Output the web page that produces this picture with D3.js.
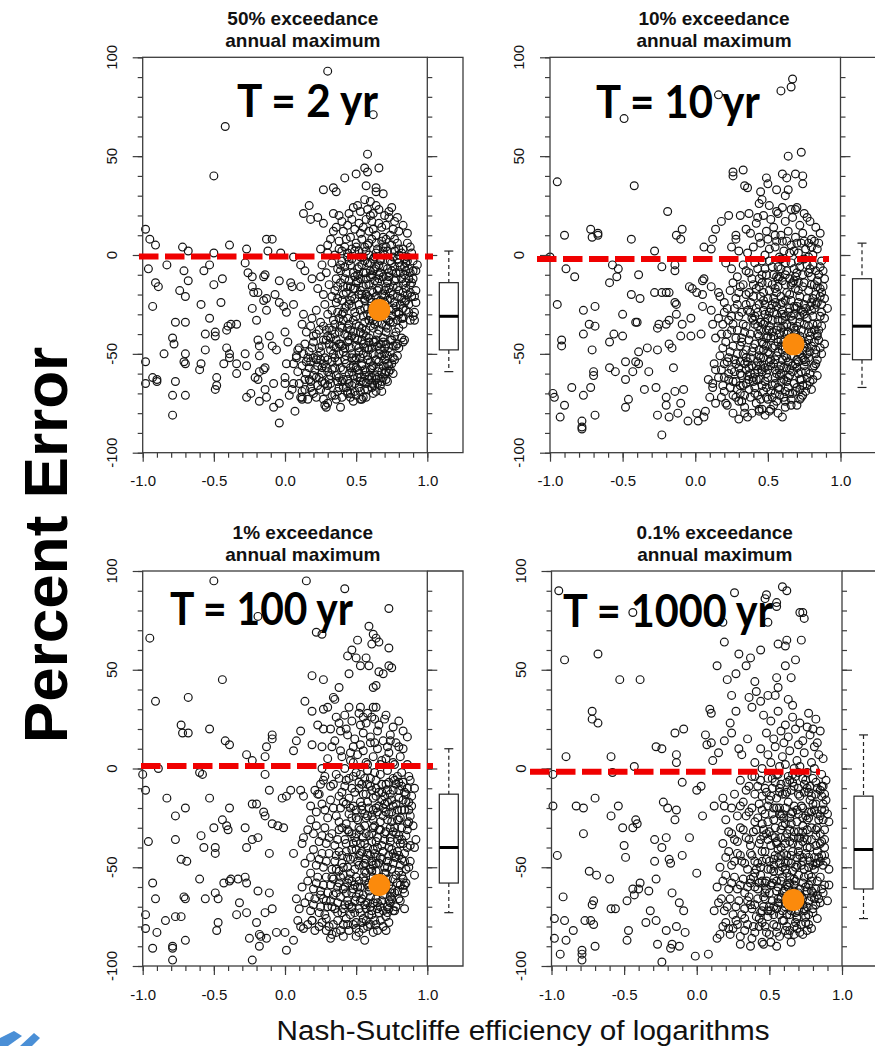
<!DOCTYPE html>
<html><head><meta charset="utf-8">
<script src="https://cdn.jsdelivr.net/npm/d3@7"></script>
<style>html,body{margin:0;padding:0;background:#fff;}svg{display:block;}</style>
</head><body>
<script>
// ---------------- DATA ----------------
const xTickValues = [-1, -0.5, 0, 0.5, 1];
const yTickValues = [-100, -50, 0, 50, 100];
const titleLine1 = ["50% exceedance", "10% exceedance", "1% exceedance", "0.1% exceedance"];
const titleLine2 = ["annual maximum", "annual maximum", "annual maximum", "annual maximum"];
const returnLabels = ["T = 2 yr", "T = 10 yr", "T = 100 yr", "T = 1000 yr"];
const highlightNSE = [0.663, 0.676, 0.663, 0.665];
const highlightErr = [-27.8, -45.2, -59, -66.6];
const refLineErr = [-0.8, -2, 1.3, -1.6];
const boxLow  = [-59, -67, -73, -76];
const boxQ1   = [-48, -53, -58, -61];
const boxMed  = [-31, -36, -40, -41];
const boxQ3   = [-14, -12, -13, -14];
const boxHigh = [2, 6, 10, 17];
const yAxisTitle = "Percent Error";
const xAxisTitle = "Nash-Sutcliffe efficiency of logarithms";

// (NSE, percent error) pairs, flat
const pts2yr = [
.30,93,-.42,65,.62,71,-.50,40,.58,51,.66,44,.56,44,.58,42,.50,41,.42,39,.57,35,.64,34,.64,32,.69,31,.27,33,.34,34,.36,32,.17,25,.13,21,.18,18,.23,19,.27,16,.34,21,.38,20,.45,21,.47,18,.51,25,.56,28,.60,27,.64,25,.73,22,.79,19,.77,17,.73,19,.68,14,.62,13,.55,14,.53,11,.43,8,.41,12,.34,12,.32,8,.86,11,.86,6,.80,3,.77,8,.71,8,.69,4,.64,6,.56,4,.49,2,.30,5,.25,3,.38,3,-.13,8,-.09,8,-.39,5,-.72,4,-.68,2,-.95,8,-.91,5,-.98,13,-.27,3,-.50,1,-.12,2,-.03,1,.06,-1,-.83,-5,-.96,-7,-.71,-8,-.57,-8,-.53,-5,-.28,-4,-.26,-9,-.23,-11,-.15,-11,-.14,-10,.11,-5,.14,-8,.19,-12,.26,-5,-.91,-14,-.89,-16,-.68,-13,-.74,-18,-.70,-21,-.50,-15,-.44,-12,-.23,-16,-.22,-19,-.19,-19,-.13,-22,-.07,-20,-.04,-13,.04,-14,.05,-16,.11,-16,-.93,-26,-.59,-25,-.45,-24,-.53,-32,-.77,-34,-.70,-34,-.23,-27,-.20,-33,-.15,-23,-.13,-28,-.04,-24,-.01,-26,.01,-29,.06,-25,.13,-30,-.56,-40,-.49,-39,-.49,-41,-.41,-38,-.40,-36,-.38,-35,-.34,-35,-.79,-42,-.78,-45,-.85,-50,-.98,-54,-.70,-50,-.71,-54,-.70,-55,-.59,-55,-.60,-58,-.56,-48,-.41,-47,-.39,-50,-.39,-52,-.34,-55,-.28,-50,-.27,-56,-.43,-55,-.19,-43,-.18,-46,-.18,-51,-.11,-41,-.09,-46,-.06,-48,0,-39,.02,-44,.09,-48,.08,-52,.01,-55,-.98,-65,-.93,-62,-.90,-63,-.77,-64,-.79,-71,-.70,-71,-.79,-81,-.48,-62,-.48,-66,-.49,-68,-.34,-60,-.27,-72,-.21,-62,-.18,-59,-.15,-58,-.14,-57,-.19,-63,-.14,-68,-.18,-74,-.13,-72,-.08,-65,-.08,-77,-.04,-85,-.04,-75,0,-62,0,-65,.07,-79,.06,-65,.12,-72,.12,-73,.19,-69,.28,-76,.29,-77,.39,-77,.36,-73,.46,-70,.53,-73,.61,-67,.71,-59,.72,-55,.83,-44,.84,-43,.91,-33,.91,-29,.92,-8,.92,-18,.89,-21,.83,-32,.83,-35,.85,-4,-.90,-64,-.24,-70,.11,-72,.30,-75,.54,-73,.44,-70,
.48,24,.53,22,.58,23,.62,21,.66,23,.70,20,.75,24,.52,16,.57,18,.61,17,.66,16,.71,15,.76,13,.80,12,.44,15,.49,13,.59,12,.64,10,.74,10,.69,9,.83,15,.40,17,.36,14,.60,20,
.38,7,.42,4,.46,9,.50,6,.54,8,.58,5,.61,8,.65,3,.68,7,.72,2,.75,5,.79,6,.82,1,.88,4,.44,1,.52,2,.59,0,.63,-1,.70,0,.76,-1,.84,-2,.90,-3,.35,0,.30,1,.47,-2,.55,-1,
.33,-4,.37,-7,.40,-3,.43,-9,.46,-5,.49,-11,.52,-6,.55,-9,.58,-4,.61,-10,.64,-6,.67,-3,.69,-11,.72,-7,.75,-4,.78,-9,.81,-6,.84,-10,.87,-7,.90,-12,.93,-5,.29,-9,.25,-11,.42,-12,.57,-12,.66,-12,.79,-2,.86,-3,.62,-2,
.31,-15,.35,-18,.39,-14,.41,-20,.44,-16,.47,-21,.50,-14,.53,-18,.56,-22,.59,-15,.62,-19,.65,-14,.68,-20,.71,-16,.74,-22,.77,-13,.80,-18,.83,-15,.86,-20,.89,-14,.92,-24,.27,-20,.23,-17,.48,-17,.60,-22,.72,-13,.85,-23,.66,-17,
.28,-25,.33,-28,.36,-24,.40,-30,.43,-26,.46,-23,.49,-29,.52,-25,.55,-31,.58,-27,.61,-24,.64,-30,.68,-26,.71,-32,.74,-28,.77,-24,.80,-30,.83,-27,.87,-25,.90,-31,.22,-28,.19,-32,.38,-32,.56,-23,.72,-23,.79,-33,.62,-33,
.18,-36,.22,-40,.25,-34,.29,-38,.32,-42,.35,-35,.38,-39,.41,-33,.44,-37,.47,-41,.50,-35,.53,-39,.56,-34,.59,-42,.62,-37,.65,-40,.68,-35,.71,-39,.74,-34,.77,-41,.80,-37,.15,-39,.12,-35,.27,-43,.45,-43,.57,-38,.69,-42,
.14,-45,.17,-49,.20,-44,.23,-51,.26,-46,.29,-43,.32,-48,.35,-52,.38,-45,.41,-49,.44,-44,.47,-50,.50,-46,.53,-52,.56,-47,.59,-44,.62,-50,.65,-46,.68,-51,.71,-45,.74,-49,.77,-53,.80,-47,.10,-47,.08,-51,.36,-47,.54,-43,.66,-54,.25,-53,
.12,-56,.15,-60,.18,-54,.21,-58,.24,-62,.27,-55,.30,-59,.33,-54,.36,-61,.39,-57,.42,-53,.45,-60,.48,-56,.51,-62,.54,-55,.57,-59,.60,-54,.63,-61,.66,-57,.69,-62,.73,-56,.76,-60,.09,-59,.06,-55,.31,-63,.40,-64,.55,-64,.47,-52,
.10,-65,.14,-68,.17,-63,.20,-70,.23,-66,.26,-64,.29,-69,.32,-65,.35,-71,.38,-67,.41,-63,.44,-69,.47,-66,.50,-71,.53,-64,.56,-68,.59,-63,.62,-70,.65,-65,.68,-69,.72,-64,.05,-68,.03,-71,.16,-73,.27,-73,.48,-74,.57,-72,
.46,-38,.49,-42,.52,-47,.55,-50,.58,-53,.61,-57,.64,-43,.67,-48,.70,-53,.73,-59,.76,-46,.79,-51,.43,-55,.51,-58,.59,-48,.48,-61,.63,-66,.70,-60,.57,-15,.60,-8,.63,-13,.67,-9,.70,-18,.73,-11,.76,-16,.79,-21,.82,-12,.85,-17,.88,-9,.64,-24,.69,-28,.75,-31,.81,-25,.54,-20,.51,-10,.58,-30,.42,-27,.37,-22,
.40,2,.45,-3,.50,4,.53,-1,.57,2,.60,-4,.64,1,.67,-2,.71,4,.74,-3,.77,2,.80,-4,.83,3,.86,-1,.89,1,
.36,-12,.39,-8,.42,-6,.45,-13,.48,-9,.51,-13,.54,-5,.57,-9,.60,-11,.63,-7,.66,-10,.69,-6,.72,-14,.75,-8,.78,-12,.81,-9,.84,-6,.87,-12,.90,-8,
.33,-21,.37,-16,.40,-23,.43,-19,.46,-16,.49,-22,.52,-20,.55,-16,.58,-21,.61,-18,.64,-21,.67,-23,.70,-21,.73,-17,.76,-20,.79,-16,.82,-22,.85,-14,.88,-19,.91,-21,
.30,-30,.34,-33,.37,-29,.41,-29,.44,-32,.47,-26,.50,-31,.53,-28,.56,-27,.59,-33,.62,-28,.65,-34,.70,-29,.73,-33,.76,-27,.78,-29,.82,-32,.85,-28,.88,-33,
.20,-41,.24,-38,.27,-36,.30,-41,.33,-38,.36,-43,.39,-36,.42,-40,.45,-35,.48,-39,.51,-43,.54,-37,.57,-41,.60,-36,.63,-44,.66,-38,.69,-44,.72,-37,.75,-43,.78,-39,.82,-42,
.16,-52,.19,-47,.22,-53,.25,-49,.28,-52,.31,-45,.34,-50,.37,-54,.40,-46,.43,-51,.46,-47,.49,-53,.52,-49,.55,-45,.58,-51,.61,-47,.64,-53,.67,-45,.70,-50,.73,-47,.76,-52,.79,-45,
.14,-63,.17,-57,.20,-61,.23,-56,.26,-60,.29,-57,.32,-61,.35,-57,.38,-62,.41,-58,.44,-63,.47,-59,.50,-57,.53,-62,.56,-58,.59,-61,.62,-56,.65,-62,.68,-59,.71,-63,.74,-58,
.12,-69,.18,-67,.22,-72,.25,-68,.30,-66,.33,-71,.37,-69,.40,-72,.43,-67,.46,-72,.49,-69,.52,-67,.55,-72,.58,-68,.61,-65,.64,-69,.67,-66,
.44,-1,.47,3,.51,-7,.56,-3,.59,6,.62,-8,.66,-5,.69,2,.73,-9,.77,-6,.80,0,.85,-8,.88,-15,.83,-19,.78,-26,.74,-19,.70,-24,.65,-18,.61,-27,.57,-20,.53,-12,.49,-17,.45,-25,.41,-16,.39,-5,.48,-33,.52,-36,.55,-40,.60,-31,.63,-35,.67,-29,.71,-36,.76,-34,.80,-29,.84,-24,.87,-29,.78,-46,.74,-43,.70,-47,.66,-50,.62,-44,.58,-47,.54,-56,.50,-52,.46,-57,.42,-47,.38,-50,.34,-46,.30,-53,.26,-57,.22,-62,.28,-65,.33,-58,.37,-64,.41,-67,.45,-65,.49,-65,.53,-69,.57,-65,.61,-62,.65,-59,.69,-56,.72,-51,.75,-55,.31,-37,.35,-40,.39,-45,.44,-41,.40,-37,.24,-47,.20,-52,.18,-64,.15,-54,.13,-50,.60,-58,.64,-63,.68,-64,.56,-61,.52,-60
];

const pts10yr = [
.67,89,.66,85,.59,83,.16,81,-.49,69,.64,50,.73,52,.26,42,.33,43,.26,40,-.95,37,-.42,35,.34,35,.36,34,.49,39,.50,36,.60,41,.63,39,.69,41,.74,40,.74,36,.56,33,.45,32,.64,33,.62,30,.44,26,.46,28,.51,25,.56,22,.60,24,.66,23,.69,23,.75,21,.77,19,.37,21,.43,19,.23,20,.31,20,.18,17,.14,13,.28,10,.28,8,.35,13,.38,11,.25,4,.30,2,.06,4,.11,3,.12,8,-.19,22,-.13,10,-.09,13,-.10,8,-.28,2,-.44,8,-.72,13,-.71,9,-.67,11,-.67,10,-.90,10,-1.0,-1,-.89,-7,-.83,-11,-.57,-5,-.53,-7,-.54,-11,-.59,-14,-.39,-10,-.23,-6,-.14,-5,-.28,-19,-.23,-19,-.20,-19,-.18,-19,-.14,-8,-.04,-16,.05,-13,.06,-12,.11,-16,-.02,-17,.01,-19,.05,-20,.16,-19,.17,-21,-.44,-20,-.38,-22,-.95,-25,-.77,-28,-.69,-26,-.69,-36,-.73,-35,-.77,-40,-.50,-30,-.41,-34,-.40,-34,-.26,-37,-.25,-35,-.13,-25,-.14,-24,-.13,-30,-.20,-35,-.18,-33,-.09,-35,-.03,-32,.05,-26,.11,-28,.12,-35,.04,-40,-.03,-41,-.10,-41,-.18,-45,-.16,-47,-.26,-48,-.33,-47,-.39,-49,-.41,-54,-.48,-54,-.56,-40,-.59,-44,-.50,-41,-.92,-43,-.92,-46,-.71,-48,-.59,-57,-.55,-59,-.70,-59,-.70,-61,-.72,-67,-.77,-71,-.85,-67,-.98,-70,-.97,-72,-.90,-76,-.93,-82,-.78,-84,-.78,-87,-.78,-88,-.69,-81,-.48,-63,-.48,-77,-.46,-73,-.43,-59,-.35,-68,-.32,-59,-.27,-67,-.39,-55,-.26,-81,-.23,-91,-.20,-72,-.18,-82,-.20,-76,-.14,-69,-.15,-57,-.12,-80,-.08,-68,-.10,-75,-.05,-84,.01,-80,.02,-84,.07,-79,.06,-82,.12,-65,.14,-58,.20,-62,.21,-75,.26,-80,.30,-83,.34,-80,.39,-80,.44,-79,.51,-79,.57,-80,.62,-74,.72,-68,.72,-63,.84,-61,.83,-48,.89,-45,.84,-41,.85,-10,.88,-16,.87,-19,.89,-22,.91,-27,.89,-32,.86,11,.82,7,.80,8,.84,3,
.47,20,.52,18,.57,21,.62,17,.67,19,.72,15,.79,17,.83,14,.49,12,.54,14,.59,10,.64,12,.69,9,.74,11,.78,6,.45,6,.51,3,.56,7,.61,2,.66,5,.71,1,.76,3,.81,0,.42,16,.40,4,.36,1,.70,24,.63,7,.55,10,.73,6,
.33,-5,.37,-9,.41,-4,.44,-12,.48,-7,.51,-3,.54,-10,.57,-6,.60,-13,.63,-8,.66,-4,.69,-11,.72,-6,.75,-2,.78,-9,.81,-5,.84,-13,.87,-3,.29,-11,.25,-7,.21,-4,.46,-14,.59,-2,.71,-14,.88,-8,
.24,-18,.28,-22,.31,-16,.35,-20,.38,-24,.42,-17,.45,-21,.48,-25,.51,-18,.54,-22,.57,-16,.60,-24,.63,-19,.66,-23,.69,-17,.72,-21,.75,-25,.78,-18,.81,-22,.84,-16,.87,-25,.20,-24,.40,-15,.56,-26,.70,-26,.82,-27,
.20,-29,.23,-33,.27,-27,.30,-31,.33,-35,.36,-28,.39,-32,.42,-27,.45,-34,.48,-30,.51,-36,.54,-29,.57,-33,.60,-28,.63,-35,.66,-31,.69,-27,.72,-34,.75,-30,.78,-36,.81,-31,.84,-35,.87,-29,.16,-32,.43,-36,.70,-36,.59,-37,
.18,-40,.21,-44,.25,-38,.28,-42,.31,-46,.34,-39,.37,-43,.40,-47,.43,-40,.46,-44,.49,-38,.52,-42,.55,-46,.58,-40,.61,-44,.64,-39,.67,-47,.70,-42,.73,-38,.76,-45,.79,-41,.82,-44,.85,-38,.14,-42,.47,-48,.60,-48,.74,-48,
.17,-51,.20,-55,.24,-49,.27,-53,.30,-57,.33,-50,.36,-54,.39,-49,.42,-56,.45,-52,.48,-57,.51,-50,.54,-55,.57,-49,.60,-53,.63,-57,.66,-51,.69,-55,.72,-50,.75,-56,.78,-52,.81,-57,.13,-55,.35,-58,.50,-58,.65,-58,.84,-53,
.16,-62,.19,-66,.23,-60,.26,-64,.29,-68,.32,-61,.35,-65,.38,-60,.41,-67,.44,-63,.47,-69,.50,-62,.53,-66,.56,-60,.59,-64,.62,-69,.65,-61,.68,-65,.71,-60,.74,-66,.77,-62,.80,-68,.12,-67,.09,-63,.31,-70,.55,-70,.46,-59,
.18,-72,.22,-76,.26,-71,.30,-74,.34,-77,.38,-72,.42,-75,.46,-78,.50,-73,.54,-76,.58,-71,.62,-77,.66,-73,.70,-76,.74,-71,.14,-75,.10,-72,.48,-81,.36,-82,.60,-82,
.47,-35,.50,-41,.53,-33,.56,-38,.59,-43,.62,-47,.65,-42,.68,-37,.71,-45,.74,-52,.77,-47,.80,-39,.44,-48,.52,-53,.58,-58,.64,-54,.70,-57,.76,-59,.49,-46,.55,-62,.61,-39,.67,-33,.73,-28,.79,-26,.62,-23,.57,-12,.66,-15,.52,-27,.45,-56,.41,-60,
.44,9,.50,8,.55,4,.60,7,.65,1,.70,6,.75,7,.80,4,.85,6,.48,0,.58,-1,.68,2,.78,-1,
.35,-8,.39,-12,.43,-7,.46,-3,.49,-10,.53,-6,.56,-11,.59,-7,.62,-4,.65,-12,.68,-7,.71,-3,.74,-10,.77,-5,.80,-11,.83,-8,.86,-6,.89,-12,
.26,-14,.30,-19,.33,-15,.37,-19,.40,-21,.44,-16,.47,-19,.50,-22,.53,-15,.56,-19,.59,-21,.62,-15,.65,-20,.68,-13,.71,-18,.74,-16,.77,-22,.80,-15,.83,-20,.86,-21,
.22,-27,.25,-31,.29,-25,.32,-29,.35,-25,.38,-29,.41,-31,.44,-25,.47,-28,.50,-32,.53,-25,.56,-30,.59,-25,.62,-31,.65,-27,.68,-30,.71,-24,.74,-29,.77,-32,.80,-28,.83,-25,.86,-31,
.19,-35,.22,-40,.26,-35,.29,-38,.32,-42,.35,-36,.38,-40,.41,-35,.44,-41,.48,-34,.51,-38,.54,-41,.57,-36,.60,-33,.63,-40,.66,-36,.69,-40,.72,-41,.75,-35,.78,-39,.81,-35,.84,-40,.87,-36,
.19,-47,.23,-52,.26,-46,.29,-50,.32,-44,.35,-48,.38,-52,.41,-45,.44,-51,.47,-45,.50,-49,.53,-47,.56,-51,.59,-46,.62,-51,.65,-48,.68,-44,.71,-49,.74,-45,.77,-50,.80,-46,.83,-50,.86,-47,
.18,-58,.22,-54,.25,-58,.28,-55,.31,-60,.34,-55,.37,-57,.40,-62,.43,-54,.46,-58,.49,-60,.52,-56,.55,-53,.58,-61,.61,-57,.64,-62,.67,-56,.70,-53,.73,-59,.76,-54,.79,-60,.82,-56,
.20,-69,.24,-67,.28,-64,.31,-66,.34,-71,.37,-68,.40,-64,.43,-71,.46,-66,.49,-72,.52,-69,.55,-65,.58,-68,.61,-63,.64,-67,.67,-70,.70,-67,.73,-63,.76,-69,.79,-64,
.46,-10,.50,-14,.55,-17,.58,-11,.62,-10,.67,-14,.70,-9,.75,-14,.79,-7,.82,-15,.86,-17,.84,-24,.80,-24,.76,-27,.72,-31,.68,-26,.64,-29,.60,-30,.55,-24,.51,-29,.47,-23,.43,-29,.40,-33,.45,-38,.49,-42,.53,-39,.57,-44,.61,-36,.65,-45,.69,-38,.73,-43,.78,-43,.82,-38,.85,-43,.87,-50,.83,-55,.79,-49,.75,-53,.71,-54,.67,-59,.63,-52,.59,-56,.55,-58,.51,-54,.47,-52,.43,-58,.39,-56,.35,-52,.31,-54,.27,-59,.23,-63,.28,-72,.33,-66,.37,-63,.41,-70,.45,-73,.49,-67,.53,-72,.57,-67,.61,-72,.65,-70,.69,-69,.73,-72,.77,-66,.81,-63,.63,-64,.59,-60,.48,-64,.42,-63,.36,-61,.32,-74,.44,-78,.52,-78,.56,-74,.66,-76,.72,-73
];

const pts100yr = [
-.50,95,.15,95,.42,91,.73,81,-.19,77,-.95,66,.22,69,.26,68,.59,72,.62,68,.64,66,.61,63,.66,64,.51,65,.73,61,.47,60,.50,56,.44,57,.57,56,.53,52,.59,52,.73,52,.75,51,.66,49,.69,48,.45,48,.19,47,.27,45,-.44,45,.38,41,.62,41,.64,42,.34,36,.35,35,-.91,34,-.68,36,.14,34,.19,29,.27,30,.30,31,.36,26,.38,23,.45,31,.53,31,.55,26,.58,28,.62,31,.64,31,.63,25,.70,25,.23,22,.27,20,.32,20,.39,19,.43,20,.53,22,-.73,22,-.68,18,-.72,18,-.53,20,-.42,14,-.39,12,-.27,7,-.23,4,-.09,17,-.09,15,-.13,11,-.14,6,.06,9,.08,14,.11,19,.19,12,.26,11,.33,11,.39,9,.46,8,.53,12,.60,13,.63,13,.74,14,.80,11,.83,19,.86,16,.73,8,
-1.0,-3,-.89,0,-.98,-11,-.60,-2,-.58,-3,-.83,-15,-.53,-15,-.39,-20,-.77,-24,-.70,-20,-.44,-26,-.41,-29,-.40,-31,-.50,-30,-.28,-30,-.23,-18,-.20,-18,-.15,-22,-.14,-24,-.11,-11,-.14,-3,-.02,-15,.01,-14,.04,-11,.11,-11,.13,-14,.18,-19,.21,-11,.23,-13,.25,-8,.27,-6,.26,0,-.09,-28,-.05,-29,-.01,-30,-.19,-35,-.23,-36,-.27,-40,-.11,-43,.06,-43,.12,-38,.13,-35,-.96,-37,-.77,-36,-.73,-46,-.69,-47,-.59,-34,-.57,-40,-.49,-40,-.49,-43,-.93,-58,-.91,-66,-.98,-74,-.98,-81,-.90,-83,-.93,-91,-.84,-77,-.77,-75,-.73,-75,-.71,-65,-.70,-66,-.70,-87,-.79,-90,-.79,-91,-.79,-97,-.60,-56,-.56,-66,-.49,-63,-.47,-66,-.47,-78,-.48,-82,-.43,-58,-.39,-57,-.38,-56,-.33,-56,-.32,-68,-.27,-58,-.28,-55,-.34,-74,-.27,-73,-.25,-86,-.23,-97,-.20,-78,-.19,-62,-.18,-84,-.17,-85,-.13,-86,-.18,-90,-.14,-73,-.11,-63,-.09,-71,-.06,-83,0,-83,.01,-92,.06,-87,.09,-77,.13,-81,.19,-77,.29,-82,.32,-86,.41,-85,.50,-85,.56,-87,.73,-78,.73,-71,.84,-71,.77,-63,.91,-54,.84,-59,.91,-40,.92,-36,.87,-21,.86,-28,.80,-26,.83,-56,
.42,27,.47,24,.52,28,.57,23,.61,26,.66,22,.71,27,.76,21,.80,24,.44,17,.49,15,.55,18,.60,16,.65,19,.69,14,.74,17,.78,13,.83,10,.40,6,.46,4,.51,7,.57,3,.62,6,.67,2,.71,5,.76,3,.81,6,.86,2,.35,14,.30,5,.65,10,.55,9,.48,11,.72,11,
.28,-4,.32,-9,.36,-3,.40,-12,.43,-6,.47,-10,.50,-2,.54,-8,.57,-13,.60,-5,.64,-10,.67,-3,.70,-14,.73,-7,.76,-11,.79,-4,.82,-9,.85,-13,.88,-6,.91,-10,.24,-13,.45,-15,.62,-15,.80,-15,.58,-1,
.22,-22,.26,-18,.30,-25,.34,-20,.38,-27,.41,-17,.45,-23,.48,-19,.51,-26,.54,-21,.58,-17,.61,-24,.64,-20,.67,-27,.70,-18,.73,-23,.76,-19,.79,-26,.82,-21,.85,-17,.88,-24,.90,-29,.18,-26,.56,-29,.68,-16,.43,-28,
.20,-33,.24,-37,.28,-30,.31,-35,.35,-39,.38,-31,.42,-36,.45,-32,.48,-38,.52,-30,.55,-35,.58,-40,.61,-33,.64,-37,.67,-31,.70,-36,.73,-40,.76,-32,.79,-36,.82,-30,.85,-34,.88,-39,.16,-31,.50,-41,.62,-41,.75,-41,
.18,-45,.22,-49,.26,-43,.29,-47,.33,-51,.36,-44,.40,-48,.43,-42,.46,-46,.49,-51,.52,-44,.55,-49,.58,-43,.61,-47,.64,-52,.67,-45,.70,-50,.73,-44,.76,-48,.79,-42,.82,-46,.85,-51,.88,-47,.14,-48,.38,-52,.57,-53,.71,-53,
.16,-57,.20,-61,.23,-55,.27,-59,.30,-63,.34,-56,.37,-60,.41,-54,.44,-58,.47,-63,.50,-55,.53,-60,.56,-57,.59,-62,.62,-55,.65,-59,.69,-64,.72,-56,.75,-61,.78,-54,.81,-59,.84,-63,.12,-60,.25,-64,.46,-53,.60,-65,.74,-65,
.14,-68,.18,-72,.21,-66,.25,-70,.28,-74,.32,-67,.35,-71,.39,-65,.42,-69,.46,-74,.49,-67,.52,-71,.55,-76,.58,-68,.61,-72,.64,-66,.67,-70,.71,-75,.74,-68,.77,-72,.10,-71,.08,-66,.37,-77,.63,-77,
.16,-79,.21,-82,.26,-78,.31,-80,.36,-83,.41,-79,.45,-82,.50,-78,.55,-81,.60,-79,.65,-82,.69,-80,.11,-80,
.50,-33,.53,-43,.56,-52,.59,-58,.62,-49,.65,-40,.68,-55,.71,-61,.74,-35,.77,-45,.80,-52,.48,-61,.54,-66,.60,-70,.66,-73,.72,-70,.57,-25,.63,-29,.69,-24,.75,-27,.81,-38,.66,-12,.72,-17,.78,-8,.47,-70,.41,-61,.52,-57,.64,-45,
.42,0,.48,3,.53,-3,.58,2,.63,-2,.68,4,.72,-1,.77,2,.82,-2,.87,-4,.38,-5,
.34,-8,.38,-14,.42,-9,.45,-5,.49,-12,.52,-7,.55,-13,.58,-8,.61,-11,.64,-6,.68,-12,.71,-8,.74,-13,.77,-6,.80,-11,.83,-7,.86,-10,.89,-14,
.28,-21,.32,-16,.36,-24,.39,-20,.43,-18,.47,-25,.50,-21,.53,-17,.56,-23,.59,-20,.62,-26,.65,-22,.69,-20,.72,-26,.75,-22,.78,-18,.81,-25,.84,-21,.87,-27,.89,-19,
.22,-29,.26,-34,.29,-38,.33,-33,.37,-36,.40,-30,.43,-38,.47,-33,.50,-37,.53,-31,.56,-38,.59,-34,.62,-30,.65,-35,.68,-39,.71,-32,.74,-37,.77,-30,.80,-34,.83,-38,.86,-31,
.20,-41,.24,-46,.27,-50,.31,-43,.35,-47,.38,-42,.41,-50,.44,-45,.47,-41,.51,-47,.54,-42,.57,-46,.60,-51,.63,-43,.66,-48,.69,-42,.72,-47,.75,-51,.78,-45,.81,-49,.84,-43,.87,-50,
.18,-53,.22,-58,.25,-62,.29,-55,.32,-59,.36,-63,.39,-55,.42,-60,.45,-56,.49,-59,.52,-63,.55,-55,.58,-59,.61,-52,.64,-62,.67,-57,.70,-53,.73,-59,.76,-56,.79,-62,.82,-54,.85,-58,
.17,-65,.20,-69,.24,-73,.27,-66,.30,-70,.34,-64,.37,-68,.40,-73,.44,-67,.47,-71,.50,-65,.53,-73,.56,-69,.59,-74,.62,-68,.65,-71,.68,-67,.72,-73,.75,-66,.78,-70,.81,-67,
.19,-77,.24,-80,.29,-76,.34,-79,.39,-82,.43,-76,.48,-79,.52,-83,.57,-77,.62,-83,.67,-77,.71,-82,.33,-84,
.48,-4,.52,-10,.56,-5,.60,-9,.64,-14,.68,-8,.72,-11,.76,-5,.80,-7,.84,-12,.87,-17,.83,-16,.79,-21,.75,-16,.71,-22,.66,-19,.62,-21,.58,-24,.54,-19,.50,-25,.46,-20,.44,-31,.49,-35,.53,-38,.57,-33,.61,-37,.66,-31,.70,-33,.74,-30,.78,-33,.82,-36,.86,-40,.84,-47,.80,-44,.76,-43,.72,-50,.68,-46,.64,-48,.60,-44,.56,-48,.52,-49,.48,-45,.44,-50,.40,-44,.36,-51,.33,-55,.38,-58,.43,-63,.47,-57,.51,-60,.55,-64,.59,-60,.63,-57,.67,-62,.71,-58,.75,-63,.79,-58,.83,-61,.80,-66,.76,-72,.73,-67,.69,-72,.65,-68,.61,-74,.57,-71,.53,-67,.49,-73,.45,-69,.41,-71,.37,-73,.33,-70,.29,-67,.44,-79,.54,-78,.64,-79,.58,-80,.50,-81
];

const pts1000yr = [
-.95,90,-.91,55,-.90,6,-.99,-3,-.99,-19,-.83,-19,-.78,-20,-.70,-15,-.78,-33,-.96,-44,-.72,29,-.72,25,-.68,23,-.68,58,-.53,45,-.39,45,-.44,79,-.59,6,-.58,-2,-.43,1,-.54,-19,-.59,-24,-.42,-26,-.41,-28,-.44,-30,-.51,-30,-.28,11,-.24,10,-.15,18,-.09,20,-.14,7,-.14,3,-.10,-7,-.23,-17,-.20,-20,-.14,-21,-.15,-26,-.21,-35,-.29,-36,-.24,-40,-.19,-46,-.18,-48,-.10,-44,-.05,-35,0,-11,.03,-9,.04,-24,.07,12,.10,13,.09,30,.10,28,.06,17,.15,8,.11,4,.12,-19,.18,-15,.19,-19,.19,64,.14,52,.18,74,.26,89,.29,58,.21,45,.27,48,.24,37,.27,29,.23,23,.19,14,.24,18,.29,10,.36,36,.38,31,.34,52,.37,56,.44,60,.40,44,.41,39,.44,34,.47,86,.48,88,.49,74,.55,84,.55,82,.59,92,.62,90,.56,63,.61,62,.62,65,.61,52,.65,46,.68,55,.72,65,.73,79,.74,76,.71,79,.55,46,.56,41,.54,37,.49,37,.63,35,.66,32,.76,21,.80,20,.85,19,.83,13,.87,5,.87,-9,.87,-26,.88,-40,.91,-51,.91,-59,.90,-67,.83,-76,.69,-76,.64,-82,.55,-90,.51,-88,.46,-89,.37,-90,.30,-89,.27,-77,.22,-81,.16,-84,.08,-94,-.01,-95,-.12,-90,-.17,-89,-.18,-91,-.24,-98,-.27,-89,-.21,-82,-.14,-80,-.08,-83,-.28,-77,-.35,-78,-.32,-72,-.48,-87,-.47,-82,-.56,-71,-.48,-67,-.43,-64,-.39,-58,-.44,-61,-.33,-62,-.28,-56,-.29,-47,-.17,-63,-.12,-68,-.09,-72,-.72,-69,-.71,-67,-.77,-77,-.73,-77,-.71,-79,-.70,-90,-.79,-92,-.79,-94,-.79,-97,-.85,-82,-.90,-87,-.92,-65,-.98,-76,-.91,-77,-.98,-86,-.94,-94,-.74,-52,-.69,-54,-.60,-56,-.50,-39,-.49,-45,-.40,-61,-.59,-71,0,-53,
.46,27,.51,24,.56,29,.61,22,.66,26,.71,23,.77,28,.82,25,.48,18,.53,15,.58,19,.63,16,.68,20,.73,14,.78,17,.44,10,.49,7,.54,11,.59,6,.64,9,.69,4,.74,8,.79,3,.84,7,.40,3,.35,15,.31,7,.60,13,.70,12,.81,11,.57,1,.67,0,
.30,-6,.34,-11,.38,-4,.42,-9,.45,-14,.49,-5,.52,-10,.56,-3,.59,-13,.62,-7,.65,-11,.68,-4,.71,-14,.74,-8,.77,-12,.80,-5,.83,-10,.86,-14,.89,-6,.26,-13,.55,-15,.70,-2,.48,-12,
.24,-20,.28,-24,.32,-17,.36,-22,.40,-27,.43,-18,.47,-23,.50,-16,.53,-26,.57,-20,.60,-25,.63,-17,.66,-22,.69,-27,.72,-19,.75,-24,.78,-16,.81,-21,.84,-26,.87,-18,.90,-23,.20,-26,.45,-28,.59,-29,.73,-29,
.22,-32,.26,-36,.30,-30,.34,-35,.37,-39,.41,-31,.44,-36,.48,-33,.51,-39,.54,-30,.58,-35,.61,-38,.64,-31,.67,-35,.70,-39,.73,-32,.76,-36,.79,-30,.82,-34,.85,-38,.88,-31,.18,-38,.56,-41,.70,-42,.83,-42,
.20,-45,.24,-49,.28,-43,.31,-47,.35,-51,.38,-44,.42,-48,.45,-42,.48,-46,.51,-51,.54,-44,.57,-48,.60,-43,.63,-47,.66,-52,.69,-45,.72,-49,.75,-43,.78,-47,.81,-51,.84,-45,.87,-49,.16,-50,.40,-53,.62,-53,.77,-54,
.18,-57,.22,-61,.26,-55,.30,-59,.33,-63,.37,-56,.40,-60,.44,-54,.47,-58,.50,-63,.53,-56,.56,-60,.59,-55,.62,-59,.65,-64,.68,-57,.71,-61,.74,-55,.77,-59,.80,-63,.83,-57,.86,-61,.14,-60,.46,-65,.58,-65,.72,-65,
.15,-68,.19,-72,.23,-66,.27,-70,.31,-74,.35,-67,.38,-71,.42,-66,.46,-70,.49,-75,.52,-67,.55,-71,.58,-66,.61,-70,.64,-74,.67,-68,.70,-72,.73,-66,.76,-70,.79,-65,.82,-69,.12,-72,.43,-76,.60,-77,.75,-75,
.18,-80,.23,-84,.28,-79,.33,-82,.38,-86,.43,-80,.48,-83,.53,-79,.57,-85,.62,-80,.67,-84,.72,-79,.76,-82,.14,-86,.45,-88,.65,-88,
.55,-37,.58,-44,.61,-51,.64,-58,.67,-62,.70,-54,.73,-47,.76,-40,.79,-55,.82,-48,.53,-52,.56,-68,.62,-74,.68,-78,.74,-72,.80,-73,.59,-23,.65,-28,.71,-35,.77,-25,.83,-30,.66,-42,.60,-62,.51,-72,.48,-57,.70,-66,.57,-12,.63,-4,.75,-6,
.45,0,.51,3,.55,-3,.61,2,.66,-3,.71,1,.76,-2,.81,0,.86,-3,.40,-4,
.36,-9,.40,-13,.44,-6,.47,-10,.51,-14,.54,-7,.57,-10,.61,-13,.64,-6,.67,-9,.70,-13,.73,-5,.76,-10,.79,-14,.82,-7,.85,-11,.88,-13,
.30,-19,.34,-24,.38,-20,.42,-25,.45,-21,.49,-19,.52,-23,.55,-20,.58,-24,.61,-20,.64,-25,.67,-19,.70,-23,.73,-20,.76,-26,.79,-22,.82,-18,.85,-24,.88,-21,.91,-27,
.24,-33,.28,-37,.32,-31,.36,-36,.39,-32,.43,-38,.46,-31,.49,-36,.52,-34,.55,-38,.58,-31,.61,-35,.64,-37,.67,-32,.70,-35,.73,-37,.76,-31,.79,-36,.82,-39,.85,-33,.88,-36,
.22,-42,.26,-47,.30,-44,.33,-48,.37,-43,.40,-47,.44,-50,.47,-42,.50,-47,.53,-49,.56,-45,.59,-50,.62,-44,.65,-48,.68,-50,.71,-44,.74,-51,.77,-45,.80,-49,.83,-48,.86,-44,.89,-47,
.20,-54,.24,-58,.28,-61,.32,-56,.35,-60,.39,-55,.42,-61,.45,-57,.48,-61,.52,-58,.55,-62,.58,-57,.61,-61,.64,-55,.67,-59,.70,-63,.73,-58,.76,-62,.79,-57,.82,-61,.85,-55,.88,-59,
.17,-66,.21,-70,.25,-74,.29,-67,.33,-71,.36,-65,.40,-69,.44,-73,.47,-66,.50,-70,.53,-74,.56,-66,.59,-72,.62,-67,.65,-70,.68,-73,.71,-68,.74,-71,.77,-67,.80,-71,.84,-66,
.20,-78,.25,-81,.30,-85,.35,-79,.40,-83,.45,-78,.50,-84,.55,-80,.59,-77,.63,-84,.67,-80,.71,-83,.75,-78,.79,-81,
.52,-5,.58,-8,.62,-12,.66,-7,.70,-10,.74,-12,.78,-9,.82,-13,.86,-9,.89,-16,.86,-21,.83,-23,.80,-18,.77,-22,.73,-25,.69,-21,.65,-23,.61,-28,.57,-23,.53,-20,.49,-27,.46,-34,.50,-32,.54,-35,.58,-40,.62,-33,.66,-38,.70,-32,.74,-35,.78,-40,.82,-31,.86,-37,.88,-44,.85,-47,.81,-45,.77,-50,.73,-45,.69,-49,.65,-44,.61,-48,.57,-52,.53,-46,.49,-51,.45,-47,.41,-51,.37,-58,.43,-58,.47,-63,.51,-59,.55,-57,.59,-63,.63,-60,.67,-56,.71,-64,.75,-60,.79,-62,.83,-64,.87,-63,.85,-68,.81,-66,.77,-74,.73,-69,.69,-75,.65,-72,.61,-68,.57,-74,.53,-70,.49,-72,.45,-72,.41,-75,.37,-69,.33,-76,.39,-80,.47,-80,.55,-83,.61,-82,.69,-81,.73,-84,.77,-79
];
const pointSets = [pts2yr, pts10yr, pts100yr, pts1000yr];

// ---------------- LAYOUT ----------------
const W = 875, H = 1046;
const layout = [
  {x0:142.7, x1:427.3, y0:57.3, y1:452.7, bx:463, red:[139,433], tx:237, ty:117, tw:141},
  {x0:550,   x1:840.5, y0:57.3, y1:452.7, bx:878, red:[537,829], tx:596, ty:118, tw:164},
  {x0:142.7, x1:427.3, y0:571,  y1:966,   bx:463, red:[141,433], tx:170, ty:625, tw:183},
  {x0:551.5, x1:842,   y0:571,  y1:966,   bx:878, red:[530,820], tx:563, ty:627, tw:210}
];
const FONT = "'Liberation Sans', Arial, Helvetica, sans-serif";
const FRAME = "#3c3c3c";

const svg = d3.select("body").append("svg").attr("width", W).attr("height", H);
svg.append("rect").attr("width", W).attr("height", H).attr("fill", "#fff");

layout.forEach((L, i) => {
  const g = svg.append("g");
  const x = d3.scaleLinear().domain([-1, 1]).range([L.x0, L.x1]);
  const y = d3.scaleLinear().domain([-100, 100]).range([L.y1, L.y0]);
  const arr = pointSets[i];
  const pts = d3.range(0, arr.length, 2).map(k => [arr[k], arr[k + 1]]);

  // points
  g.append("g").selectAll("circle").data(pts).join("circle")
    .attr("cx", d => x(d[0])).attr("cy", d => y(d[1])).attr("r", 3.9)
    .attr("fill", "none").attr("stroke", "#141414").attr("stroke-width", 1.2);

  // frame of scatter
  g.append("rect").attr("x", L.x0).attr("y", L.y0)
    .attr("width", L.x1 - L.x0).attr("height", L.y1 - L.y0)
    .attr("fill", "none").attr("stroke", FRAME).attr("stroke-width", 1.3);
  // box panel frame (top, right, bottom)
  g.append("path")
    .attr("d", `M${L.x1},${L.y0}H${L.bx}V${L.y1}H${L.x1}`)
    .attr("fill", "none").attr("stroke", FRAME).attr("stroke-width", 1.3);

  // x axis: major + minor
  const minorX = d3.range(-10, 11).map(v => v / 10);
  const axMinor = d3.axisBottom(x).tickValues(minorX).tickSize(5).tickFormat("");
  const axMajor = d3.axisBottom(x).tickValues(xTickValues).tickSize(9).tickPadding(14)
    .tickFormat(d => d.toFixed(1));
  [axMinor, axMajor].forEach(ax => {
    const a = g.append("g").attr("transform", `translate(0,${L.y1})`).call(ax);
    a.select(".domain").remove();
    a.selectAll("line").attr("stroke", FRAME).attr("stroke-width", 1.2);
    a.selectAll("text").attr("font-family", FONT).attr("font-size", 15).attr("fill", "#111");
  });

  // y axis: major + minor (left of scatter)
  const minorY = d3.range(-100, 101, 10);
  const ayMinor = d3.axisLeft(y).tickValues(minorY).tickSize(5).tickFormat("");
  const ayMajor = d3.axisLeft(y).tickValues(yTickValues).tickSize(10).tickFormat("");
  [ayMinor, ayMajor].forEach(ax => {
    const a = g.append("g").attr("transform", `translate(${L.x0},0)`).call(ax);
    a.select(".domain").remove();
    a.selectAll("line").attr("stroke", FRAME).attr("stroke-width", 1.2);
  });
  g.selectAll(".ylab" + i).data(yTickValues).join("text")
    .attr("transform", d => `translate(${L.x0 - 26},${y(d)}) rotate(-90)`)
    .attr("text-anchor", "middle").attr("font-family", FONT).attr("font-size", 15)
    .attr("fill", "#111").text(d => String(d));

  // box panel axis ticks (pointing right)
  const byMinor = d3.axisRight(y).tickValues(d3.range(-90, 91, 10)).tickSize(5).tickFormat("");
  const byMajor = d3.axisRight(y).tickValues([-50, 0, 50]).tickSize(10).tickFormat("");
  [byMinor, byMajor].forEach(ax => {
    const a = g.append("g").attr("transform", `translate(${L.x1},0)`).call(ax);
    a.select(".domain").remove();
    a.selectAll("line").attr("stroke", FRAME).attr("stroke-width", 1.2);
  });

  // boxplot
  const cx = L.x1 + 21.5, hw = 9.5, cap = 4.5;
  g.append("line").attr("x1", cx).attr("x2", cx).attr("y1", y(boxHigh[i])).attr("y2", y(boxQ3[i]))
    .attr("stroke", "#222").attr("stroke-width", 1.2).attr("stroke-dasharray", "4,3");
  g.append("line").attr("x1", cx).attr("x2", cx).attr("y1", y(boxQ1[i])).attr("y2", y(boxLow[i]))
    .attr("stroke", "#222").attr("stroke-width", 1.2).attr("stroke-dasharray", "4,3");
  [boxHigh[i], boxLow[i]].forEach(v => g.append("line")
    .attr("x1", cx - cap).attr("x2", cx + cap).attr("y1", y(v)).attr("y2", y(v))
    .attr("stroke", "#222").attr("stroke-width", 1.2));
  g.append("rect").attr("x", cx - hw).attr("width", 2 * hw)
    .attr("y", y(boxQ3[i])).attr("height", y(boxQ1[i]) - y(boxQ3[i]))
    .attr("fill", "#fff").attr("stroke", "#222").attr("stroke-width", 1.2);
  g.append("line").attr("x1", cx - hw).attr("x2", cx + hw).attr("y1", y(boxMed[i])).attr("y2", y(boxMed[i]))
    .attr("stroke", "#000").attr("stroke-width", 3);

  // red dashed reference line
  g.append("line").attr("x1", L.red[0]).attr("x2", L.red[1])
    .attr("y1", y(refLineErr[i])).attr("y2", y(refLineErr[i]))
    .attr("stroke", "#f00000").attr("stroke-width", 6).attr("stroke-dasharray", "19.5,6.5");

  // orange highlight
  g.append("circle").attr("cx", x(highlightNSE[i])).attr("cy", y(highlightErr[i])).attr("r", 11)
    .attr("fill", "#fb8a0c");

  // titles
  const tcx = (L.x0 + L.bx) / 2;
  g.append("text").attr("x", tcx).attr("y", L.y0 - 32).attr("text-anchor", "middle")
    .attr("font-family", FONT).attr("font-weight", "bold").attr("font-size", 19).attr("fill", "#111")
    .text(titleLine1[i]);
  g.append("text").attr("x", tcx).attr("y", L.y0 - 10).attr("text-anchor", "middle")
    .attr("font-family", FONT).attr("font-weight", "bold").attr("font-size", 19).attr("fill", "#111")
    .text(titleLine2[i]);

  // T label
  g.append("text").attr("x", L.tx).attr("y", L.ty)
    .attr("font-family", "Lato, 'Open Sans', sans-serif").attr("font-weight", "bold")
    .attr("font-size", 45).attr("fill", "#000")
    .attr("textLength", L.tw).attr("lengthAdjust", "spacingAndGlyphs")
    .text(returnLabels[i]);
});

// global axis titles
svg.append("text").attr("transform", "translate(67,545) rotate(-90)")
  .attr("text-anchor", "middle").attr("font-family", FONT).attr("font-weight", "bold")
  .attr("font-size", 62).attr("fill", "#000").text(yAxisTitle);
svg.append("text").attr("x", 523).attr("y", 1040).attr("text-anchor", "middle")
  .attr("font-family", FONT).attr("font-size", 27).attr("fill", "#111")
  .attr("textLength", 493).attr("lengthAdjust", "spacingAndGlyphs").text(xAxisTitle);

// small blue logo fragment at bottom-left corner
svg.append("path").attr("d", "M0,1038 L14,1031 L22,1036 L8,1046 L0,1046 Z").attr("fill", "#4a8fd6");
svg.append("path").attr("d", "M20,1046 L34,1033 L40,1038 L32,1046 Z").attr("fill", "#4a8fd6");
</script>
</body></html>
